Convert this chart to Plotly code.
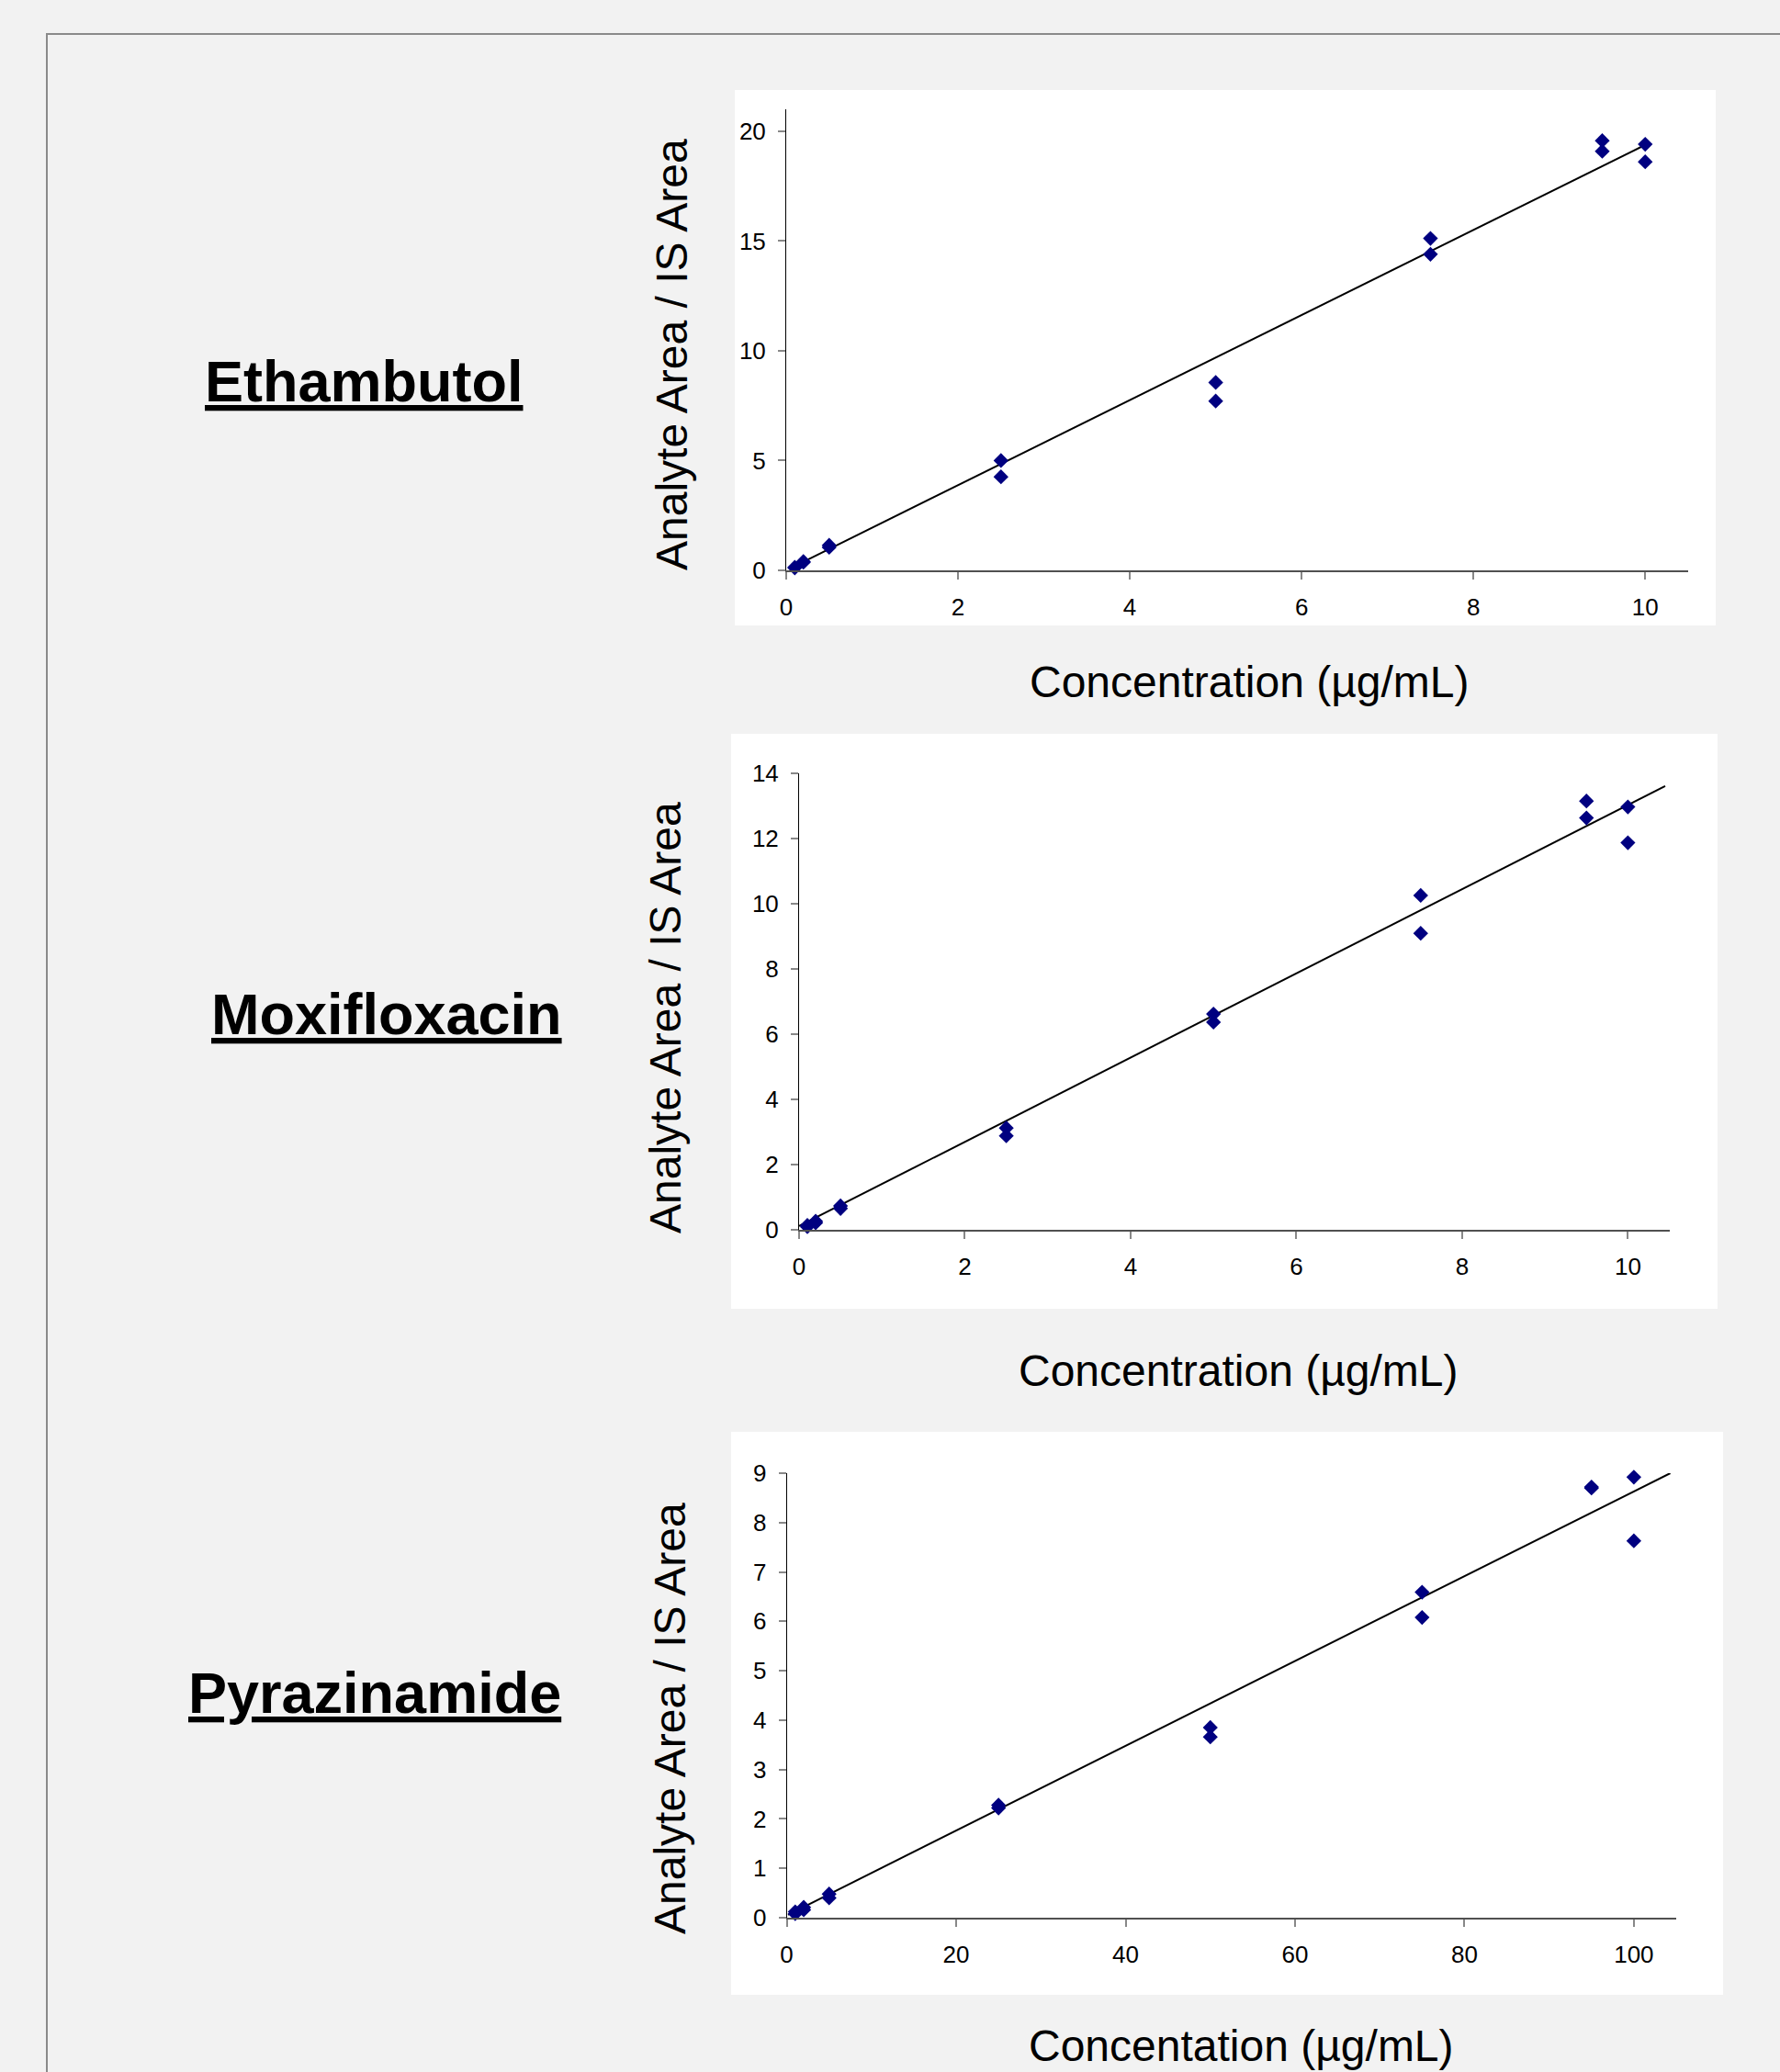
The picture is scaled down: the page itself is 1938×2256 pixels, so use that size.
import plotly.graph_objects as go

# ---------------- data ----------------
eth_conc = [0.1, 0.1, 0.2, 0.2, 0.5, 0.5, 2.5, 2.5, 5, 5, 7.5, 7.5, 9.5, 9.5, 10, 10]
eth_ratio = [0.11, 0.14, 0.37, 0.40, 1.05, 1.14, 5.00, 4.26, 8.56, 7.71, 15.12, 14.40, 19.57, 19.09, 19.41, 18.61]
eth_fit_x = [0.04, 10.0]
eth_fit_y = [0.08, 19.38]

moxi_conc = [0.1, 0.1, 0.2, 0.2, 0.5, 0.5, 2.5, 2.5, 5, 5, 7.5, 7.5, 9.5, 9.5, 10, 10]
moxi_ratio = [0.08, 0.12, 0.20, 0.25, 0.72, 0.64, 3.11, 2.87, 6.61, 6.36, 10.25, 9.09, 13.15, 12.63, 12.97, 11.87]
moxi_fit_x = [0.0, 10.45]
moxi_fit_y = [0.10, 13.61]

pyra_conc = [1, 1, 2, 2, 5, 5, 25, 25, 50, 50, 75, 75, 95, 95, 100, 100]
pyra_ratio = [0.08, 0.12, 0.16, 0.21, 0.48, 0.40, 2.28, 2.22, 3.85, 3.66, 6.59, 6.08, 8.70, 8.72, 8.92, 7.63]
pyra_fit_x = [0.15, 104.3]
pyra_fit_y = [0.06, 9.0]

drug_names = ["Ethambutol", "Moxifloxacin", "Pyrazinamide"]
y_title = "Analyte Area / IS Area"
x_titles = ["Concentration (µg/mL)", "Concentration (µg/mL)", "Concentation (µg/mL)"]

x_ranges = [[0, 10.5], [0, 10.5], [0, 105]]
y_ranges = [[0, 21], [0, 14], [0, 9]]
x_dticks = [2, 2, 20]
y_dticks = [5, 2, 1]

# ---------------- layout helpers ----------------
W, H = 1938, 2256
def px(x):
    return x / W
def py(y):
    return 1 - y / H

FONT = "Arial, Liberation Sans, sans-serif"
MARKER = "#000080"

# plot-area pixel boxes (left, right, bottom, top)
boxes = [
    (856, 1838, 621, 119),
    (870, 1817.5, 1338.5, 842),
    (856.6, 1825, 2088, 1604),
]
# white panels (x0, y0, x1, y1)
panels = [
    (800, 98, 1868, 681),
    (796, 799, 1870, 1425),
    (796, 1559, 1876, 2172),
]
name_pos = [(396, 415), (421, 1104), (408, 1843)]
ytitle_pos = [(731, 386), (724, 1108), (729, 1871)]
xtitle_pos = [(1360, 742), (1348, 1492), (1351, 2227)]

fig = go.Figure()

series = [
    (eth_conc, eth_ratio, eth_fit_x, eth_fit_y),
    (moxi_conc, moxi_ratio, moxi_fit_x, moxi_fit_y),
    (pyra_conc, pyra_ratio, pyra_fit_x, pyra_fit_y),
]

for i, (cx, cy, fx, fy) in enumerate(series):
    xa = "x" if i == 0 else f"x{i+1}"
    ya = "y" if i == 0 else f"y{i+1}"
    fig.add_trace(go.Scatter(x=fx, y=fy, mode="lines",
                             line=dict(color="black", width=2),
                             xaxis=xa, yaxis=ya, showlegend=False,
                             hoverinfo="skip"))
    fig.add_trace(go.Scatter(x=cx, y=cy, mode="markers",
                             marker=dict(symbol="diamond", size=12.5, color=MARKER,
                                         line=dict(width=0)),
                             cliponaxis=False,
                             xaxis=xa, yaxis=ya, showlegend=False))

layout = dict(
    width=W, height=H,
    margin=dict(l=0, r=0, t=0, b=0, pad=0, autoexpand=False),
    paper_bgcolor="#f2f2f2",
    plot_bgcolor="rgba(0,0,0,0)",
    font=dict(family=FONT, color="black"),
    showlegend=False,
)

shapes = []
annotations = []

# outer frame
shapes.append(dict(type="rect", xref="paper", yref="paper",
                   x0=px(51), x1=1.05, y0=-0.05, y1=py(37),
                   line=dict(color="#8a8a8a", width=2), fillcolor="rgba(0,0,0,0)",
                   layer="below"))

for i in range(3):
    l, r, b, t = boxes[i]
    sfx = "" if i == 0 else str(i + 1)
    layout["xaxis" + sfx] = dict(
        domain=[px(l), px(r)], range=x_ranges[i], anchor="y" + sfx,
        dtick=x_dticks[i], tick0=0, showgrid=False, zeroline=False,
        showline=True, linecolor="#505050", linewidth=2,
        ticks="outside", ticklen=8, tickwidth=2, tickcolor="#888888",
        tickfont=dict(size=26, family=FONT, color="black"),
        ticklabelstandoff=8, automargin=False,
    )
    layout["yaxis" + sfx] = dict(
        domain=[py(b), py(t)], range=y_ranges[i], anchor="x" + sfx,
        dtick=y_dticks[i], tick0=0, showgrid=False, zeroline=False,
        showline=True, linecolor="black", linewidth=1,
        ticks="outside", ticklen=8, tickwidth=2, tickcolor="#888888",
        tickfont=dict(size=26, family=FONT, color="black"),
        ticklabelstandoff=8, automargin=False,
    )
    x0, y0, x1, y1 = panels[i]
    shapes.append(dict(type="rect", xref="paper", yref="paper",
                       x0=px(x0), x1=px(x1), y0=py(y1), y1=py(y0),
                       line=dict(width=0), fillcolor="white", layer="below"))
    nx, ny = name_pos[i]
    annotations.append(dict(xref="paper", yref="paper", x=px(nx), y=py(ny),
                            text=f"<b><u>{drug_names[i]}</u></b>", showarrow=False,
                            xanchor="center", yanchor="middle",
                            font=dict(size=63, family=FONT, color="black")))
    tx, ty = ytitle_pos[i]
    annotations.append(dict(xref="paper", yref="paper", x=px(tx), y=py(ty),
                            text=y_title, textangle=-90, showarrow=False,
                            xanchor="center", yanchor="middle",
                            font=dict(size=48, family=FONT, color="black")))
    gx, gy = xtitle_pos[i]
    annotations.append(dict(xref="paper", yref="paper", x=px(gx), y=py(gy),
                            text=x_titles[i], showarrow=False,
                            xanchor="center", yanchor="middle",
                            font=dict(size=48, family=FONT, color="black")))

layout["shapes"] = shapes
layout["annotations"] = annotations
fig.update_layout(**layout)

fig.write_html("out.html", config={"displayModeBar": False},
               post_script="document.body.style.margin='0';document.documentElement.style.margin='0';")
